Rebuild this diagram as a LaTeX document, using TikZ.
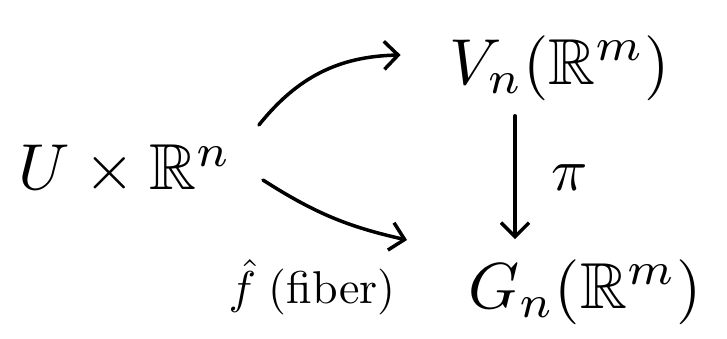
\documentclass[tikz,border=0pt]{standalone}
\usepackage{amssymb}
\usetikzlibrary{arrows.meta}
\begin{document}
\begin{tikzpicture}[x=1pt,y=1pt,
  big/.style={scale=6.5, inner sep=0pt},
  med/.style={scale=4.6, inner sep=0pt},
  arr/.style={line width=3.5pt, -{Straight Barb[length=14pt,width=28pt,line width=3.5pt]}, line cap=round}]
\useasboundingbox (0,0) rectangle (727,339);
\node[big] (u) at (125,169) {$U\times\mathbb{R}^n$};
\node[big] (v) at (560,271) {$V_n(\mathbb{R}^m)$};
\node[big] (g) at (585,47) {$G_n(\mathbb{R}^m)$};
\node[med] (f) at (312,52) {$\hat{f}\;$(fiber)};
\draw[arr] ([shift={(26pt,45pt)}]u.east) to[bend left=25] ([shift={(-48pt,13pt)}]v.west);
\draw[arr] ([shift={(30pt,-10pt)}]u.east) to[bend right=10] ([shift={(-60pt,52pt)}]g.west);
\draw[arr] ([shift={(-45pt,-14pt)}]v.south) -- node[right, scale=6, xshift=1pt] (p) {$\pi$} ([shift={(-70pt,19pt)}]g.north);
\end{tikzpicture}
\end{document}
